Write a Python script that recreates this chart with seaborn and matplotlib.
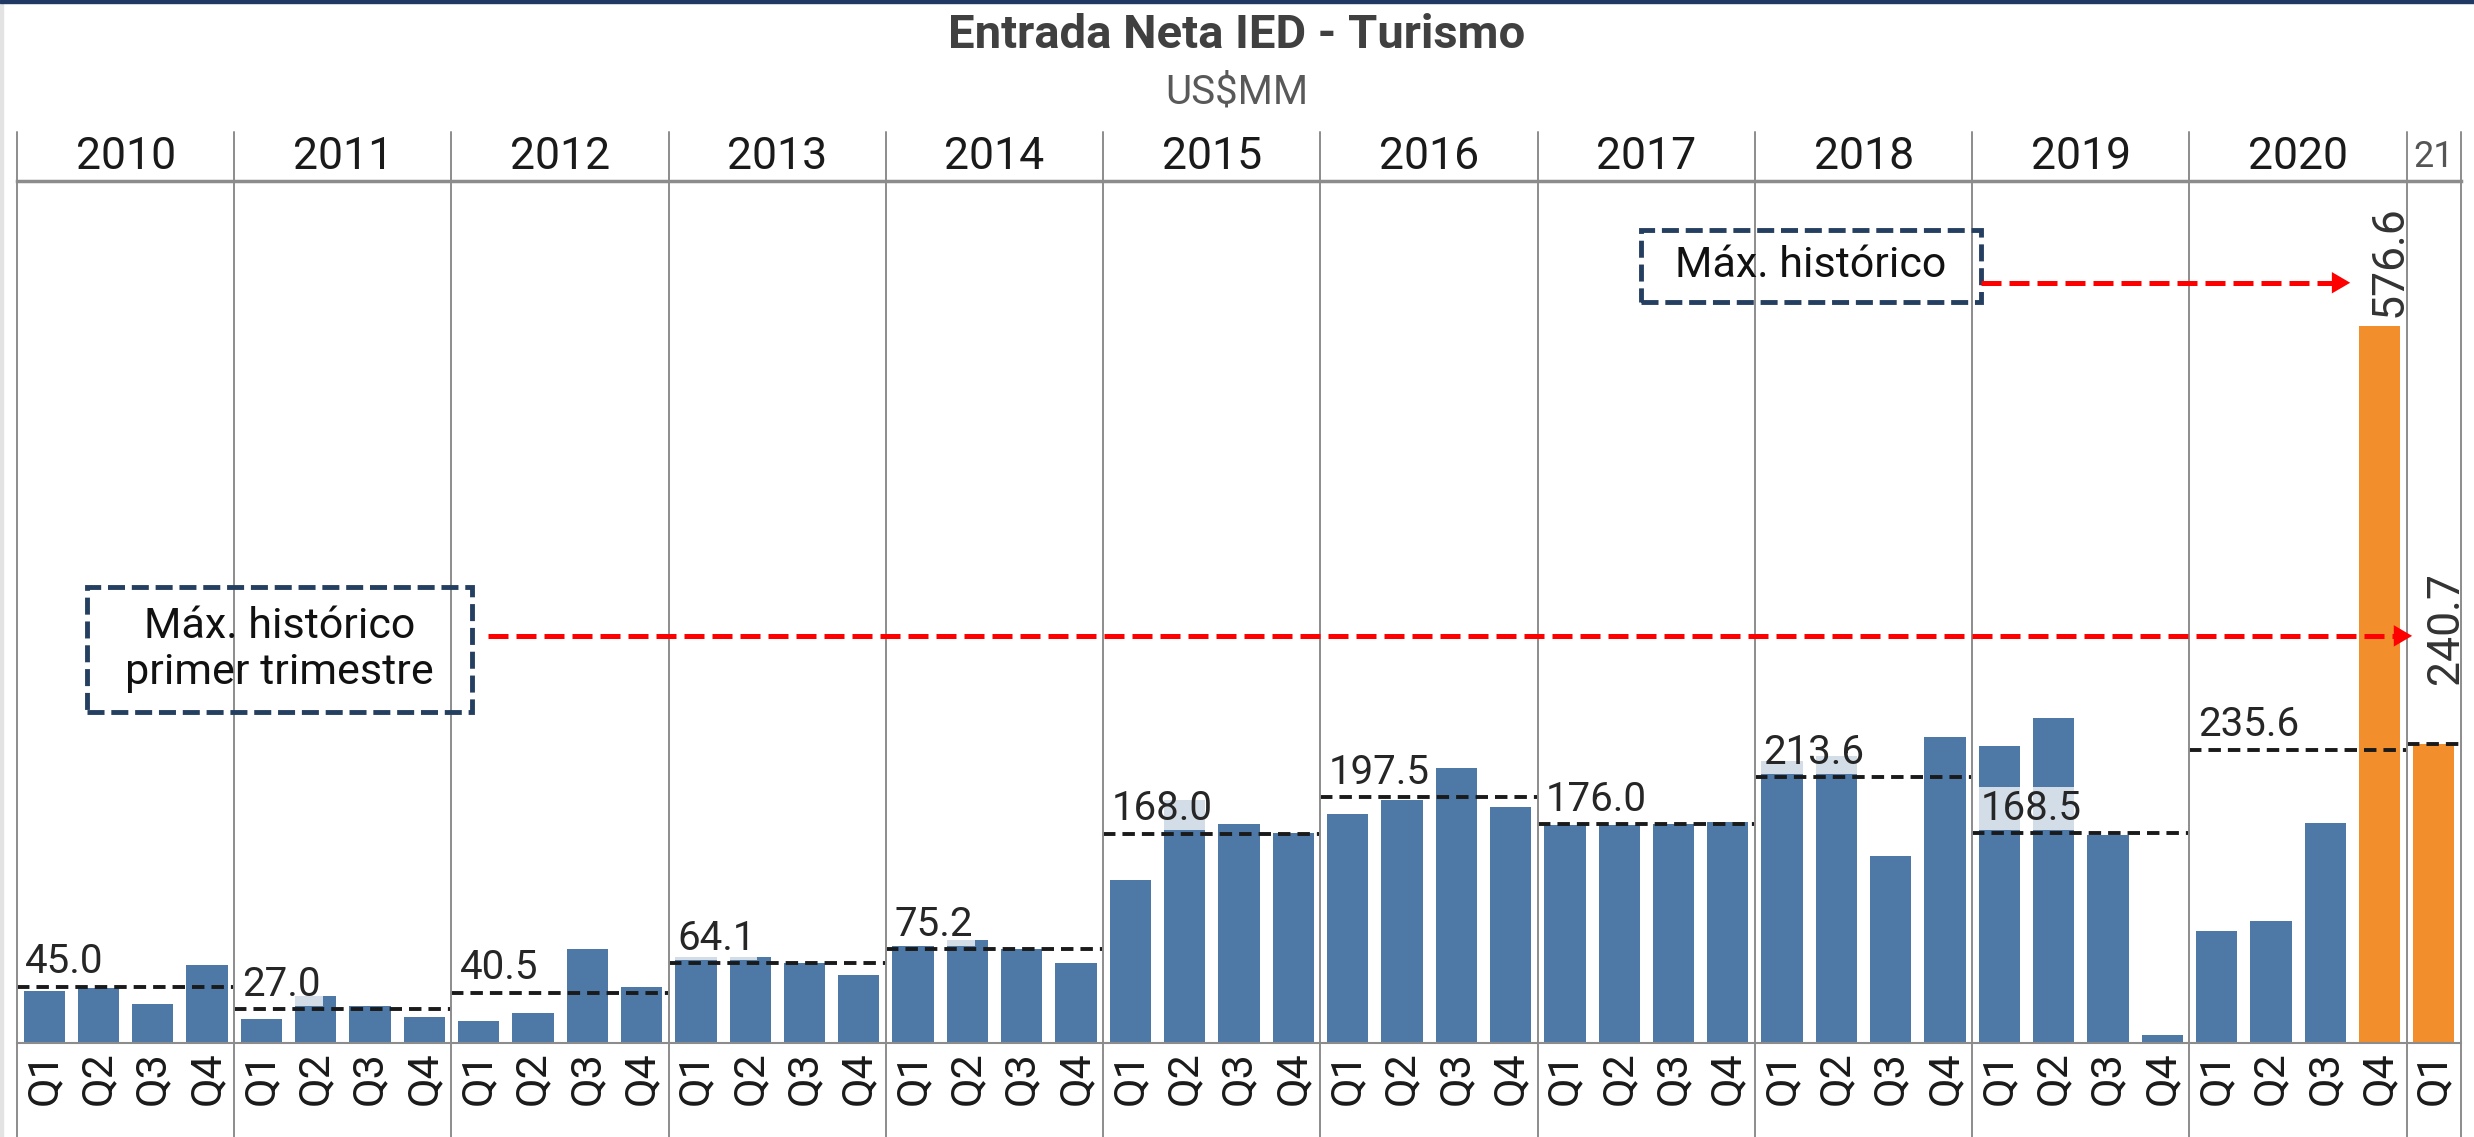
import pandas as pd
import matplotlib.pyplot as plt
import matplotlib.transforms as mtransforms
from matplotlib.patches import Rectangle
import seaborn as sns

# =======================
# DATOS (US$MM) - Entrada neta de IED en turismo
# =======================
anios = ["2010", "2011", "2012", "2013", "2014", "2015",
         "2016", "2017", "2018", "2019", "2020", "21"]
trimestres_por_anio = [4, 4, 4, 4, 4, 4, 4, 4, 4, 4, 4, 1]
trimestres = ["Q1", "Q2", "Q3", "Q4"] * 11 + ["Q1"]

valores = [42.0, 44.5, 31.0, 62.5,
           19.0, 38.0, 29.5, 21.0,
           18.0, 24.0, 75.3, 44.8,
           68.9, 68.9, 64.1, 54.5,
           77.7, 83.1, 75.3, 64.7,
           131.3, 195.4, 176.1, 169.2,
           183.9, 195.2, 220.9, 190.0,
           175.3, 175.3, 175.9, 177.5,
           227.0, 230.8, 150.6, 246.0,
           238.6, 261.6, 167.3, 6.5,
           90.3, 98.4, 177.1, 576.6,
           240.7]

# promedio trimestral de cada año (línea punteada)
promedios = [45.0, 27.0, 40.5, 64.1, 75.2, 168.0, 197.5, 176.0, 213.6, 168.5, 235.6, 240.7]

# barras resaltadas (máximos históricos)
grupo = ["normal"] * 43 + ["maximo", "maximo"]

AZUL = "#4E79A7"
NARANJA = "#F28E2B"
GRIS = "#8c8c8c"

anio_barra = [a for a, n in zip(anios, trimestres_por_anio) for _ in range(n)]
df = pd.DataFrame({
    "periodo": [f"{a}-{q}" for a, q in zip(anio_barra, trimestres)],
    "valor": valores,
    "grupo": grupo,
})

# =======================
# FIGURA
# =======================
sns.set_style("white")
plt.rcParams["font.family"] = ["Roboto", "DejaVu Sans"]

W, H = 2474, 1137
fig = plt.figure(figsize=(W / 100, H / 100), dpi=100)
ax = fig.add_axes([17 / W, (H - 1043) / H, (2461 - 17) / W, (1043 - 181) / H])

sns.barplot(data=df, x="periodo", y="valor", hue="grupo",
            palette={"normal": AZUL, "maximo": NARANJA},
            dodge=False, width=0.76, saturation=1, legend=False,
            linewidth=0, ax=ax)

n = len(valores)
ax.set_xlim(-0.5, n - 0.5)
ax.set_ylim(0, 693)
ax.set_yticks([])
ax.set_xlabel("")
ax.set_ylabel("")

ax.set_xticks(range(n))
ax.set_xticklabels(trimestres, rotation=90, fontsize=31, color="#1a1a1a")
ax.tick_params(axis="x", which="major", length=0, pad=6)
ax.set_xticks([i + 0.5 for i in range(n - 1)], minor=True)
ax.tick_params(axis="x", which="minor", length=6, width=1.2, color=GRIS, direction="out")

for lado in ["left", "right"]:
    ax.spines[lado].set_visible(False)
ax.spines["top"].set_color(GRIS)
ax.spines["top"].set_linewidth(2.5)
ax.spines["bottom"].set_color(GRIS)
ax.spines["bottom"].set_linewidth(1.5)

# separadores de año, encabezados, promedios
trans = mtransforms.blended_transform_factory(ax.transData, fig.transFigure)
inicio = 0
bordes = [-0.5]
for anio, nq, prom in zip(anios, trimestres_por_anio, promedios):
    x0, x1 = inicio - 0.5, inicio + nq - 0.5
    bordes.append(x1)
    ax.text((x0 + x1) / 2, 1 - 157 / H, anio, transform=trans, ha="center", va="center",
            fontsize=32 if nq == 4 else 26, color="#1a1a1a" if nq == 4 else "#555555")
    ax.hlines(prom, x0, x1, colors="#1a1a1a", linestyles=(0, (3.2, 1.8)), lw=2.8, zorder=5)
    if nq == 4:
        ax.annotate(f"{prom:.1f}", xy=(x0, prom), xytext=(6, 4), textcoords="offset points",
                    ha="left", va="bottom", fontsize=29, color="#262626", zorder=4,
                    bbox=dict(boxstyle="square,pad=0.05", fc="white", ec="none", alpha=0.75))
    inicio += nq

for b in bordes:
    ax.plot([b, b], [0, 1 - 132 / H], transform=trans, color=GRIS, lw=1.4,
            clip_on=False, zorder=6)

# etiquetas verticales de los máximos
ax.annotate(f"{valores[43]:.1f}", xy=(43, valores[43]), xytext=(7, 6), textcoords="offset points",
            rotation=90, ha="center", va="bottom", fontsize=32, color="#333333")
ax.annotate(f"{valores[44]:.1f}", xy=(44, valores[44]), xytext=(9, 43), textcoords="offset points",
            rotation=90, ha="center", va="bottom", fontsize=32, color="#333333")

# cuadros de anotación y flechas
NAVY = "#243F60"
cuadros = [
    ((29.40, 595.9), 6.26, 57.9, "Máx. histórico"),
    ((0.79, 266.2), 7.09, 100.5, "Máx. histórico\nprimer trimestre"),
]
for (cx, cy), cw, ch, txt in cuadros:
    ax.add_patch(Rectangle((cx, cy), cw, ch, fill=False, ec=NAVY, lw=3.5,
                           ls=(0, (3.5, 1.4)), zorder=7, clip_on=False))
    ax.text(cx + cw / 2, cy + ch / 2, txt, ha="center", va="center", fontsize=31,
            color="#111111", linespacing=1.15, zorder=7)

flechas = [(35.66, 42.46, 611.2), (8.17, 43.60, 327.3)]
for xa, xb, yf in flechas:
    ax.plot([xa, xb - 0.25], [yf, yf], color="red", lw=3.6, ls=(0, (4, 1.6)), zorder=8)
    ax.annotate("", xy=(xb, yf), xytext=(xb - 0.3, yf),
                arrowprops=dict(arrowstyle="-|>,head_length=0.6,head_width=0.35",
                                color="red", lw=0, mutation_scale=22,
                                shrinkA=0, shrinkB=0), zorder=8)

# títulos
fig.text(0.5, 1 - 35 / H, "Entrada Neta IED - Turismo", ha="center", va="center",
         fontsize=34, fontweight="bold", color="#404040")
fig.text(0.5, 1 - 92 / H, "US$MM", ha="center", va="center", fontsize=29, color="#595959")

# bordes del marco
fig.patches.append(Rectangle((0, 0), 3 / W, 1, transform=fig.transFigure,
                             color="#e3e3e3", zorder=0))
fig.patches.append(Rectangle((0, 1 - 3 / H), 1, 3 / H, transform=fig.transFigure,
                             color="#1F3864", zorder=0))

fig.savefig("out.png", dpi=100)
